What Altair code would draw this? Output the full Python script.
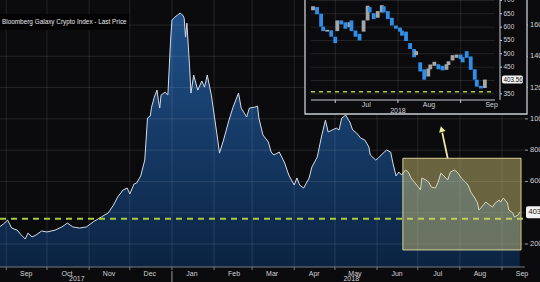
import altair as alt
import pandas as pd

# ---------------- main series (Bloomberg Galaxy Crypto Index, last price) ----------------
main_dates = [
    "2017-08-27", "2017-08-30", "2017-09-02", "2017-09-05", "2017-09-09", "2017-09-12", "2017-09-15",
    "2017-09-17", "2017-09-20", "2017-09-23", "2017-09-27",
    "2017-10-01", "2017-10-07", "2017-10-12", "2017-10-16", "2017-10-20", "2017-10-25", "2017-10-30",
    "2017-11-04", "2017-11-10", "2017-11-15", "2017-11-19", "2017-11-22", "2017-11-26", "2017-11-29",
    "2017-12-01", "2017-12-04", "2017-12-06", "2017-12-09", "2017-12-12", "2017-12-14", "2017-12-16",
    "2017-12-17", "2017-12-19", "2017-12-21", "2017-12-22", "2017-12-23", "2017-12-24", "2017-12-27",
    "2017-12-29", "2017-12-31",
    "2018-01-01", "2018-01-03", "2018-01-05", "2018-01-07", "2018-01-09", "2018-01-10", "2018-01-11",
    "2018-01-12", "2018-01-14", "2018-01-15", "2018-01-17", "2018-01-20", "2018-01-23", "2018-01-25",
    "2018-01-27", "2018-01-30",
    "2018-02-03", "2018-02-05", "2018-02-08", "2018-02-12", "2018-02-15", "2018-02-19", "2018-02-21",
    "2018-02-25", "2018-02-27",
    "2018-03-03", "2018-03-05", "2018-03-06", "2018-03-09", "2018-03-13", "2018-03-15", "2018-03-17",
    "2018-03-21", "2018-03-25", "2018-03-28",
    "2018-04-01", "2018-04-03", "2018-04-05", "2018-04-08", "2018-04-12", "2018-04-14", "2018-04-18",
    "2018-04-21", "2018-04-24", "2018-04-26", "2018-04-29",
    "2018-05-02", "2018-05-04", "2018-05-06", "2018-05-09", "2018-05-11", "2018-05-12", "2018-05-14",
    "2018-05-17", "2018-05-20", "2018-05-23", "2018-05-26", "2018-05-27", "2018-05-31",
    "2018-06-02", "2018-06-04", "2018-06-08", "2018-06-11", "2018-06-13", "2018-06-15", "2018-06-17",
    "2018-06-19", "2018-06-22", "2018-06-24", "2018-06-26", "2018-06-29",
    "2018-07-02", "2018-07-03", "2018-07-04", "2018-07-07", "2018-07-09", "2018-07-11", "2018-07-14",
    "2018-07-16", "2018-07-18", "2018-07-21", "2018-07-23", "2018-07-25", "2018-07-28", "2018-07-30",
    "2018-08-02", "2018-08-05", "2018-08-07", "2018-08-09", "2018-08-12", "2018-08-14", "2018-08-15",
    "2018-08-17", "2018-08-20", "2018-08-23", "2018-08-25", "2018-08-27", "2018-08-30", "2018-08-31",
    "2018-09-02", "2018-09-05", "2018-09-06", "2018-09-09", "2018-09-10", "2018-09-13", "2018-09-14",
]
main_values = [
    309, 328, 353, 302, 289, 258, 232, 270, 245, 258, 283,
    277, 289, 309, 334, 309, 302, 309,
    341, 373, 398, 449, 500, 545, 558,
    520, 583, 590, 635, 737, 1005, 1018, 1075, 1139, 1184, 1120, 1069, 1152, 1171, 1152, 1504,
    1631, 1650, 1663, 1676, 1663, 1644, 1523, 1612, 1331, 1165, 1280, 1184, 1242, 1203, 1280, 1152,
    909, 781, 865, 992, 1075, 1165, 1069, 1012, 1069,
    1075, 1082, 1005, 897, 852, 788, 769, 788, 718, 641,
    577, 622, 577, 558, 622, 692, 756, 884, 992, 916, 929,
    941, 929, 1005, 1024, 992, 980, 929, 909, 877, 865, 820, 769, 737,
    750, 769, 801, 788, 705, 635, 660, 641, 673, 660, 622, 590,
    558, 545, 622, 609, 596, 564, 558, 596, 654, 628, 609, 660, 673, 660,
    622, 596, 577, 532, 494, 462, 417, 436, 468, 449, 436, 462, 481, 468,
    494, 462, 417, 398, 373, 385, 404,
]

# ---------------- inset candles (Jun - Sep 2018) ----------------
inset_dates = [
    "2018-06-20", "2018-06-22", "2018-06-24", "2018-06-25", "2018-06-27", "2018-06-29", "2018-07-01",
    "2018-07-02", "2018-07-04", "2018-07-06", "2018-07-08", "2018-07-09", "2018-07-11", "2018-07-13",
    "2018-07-15", "2018-07-17", "2018-07-18", "2018-07-20", "2018-07-22", "2018-07-24", "2018-07-25",
    "2018-07-27", "2018-07-29", "2018-07-31", "2018-08-02", "2018-08-03", "2018-08-05", "2018-08-07",
    "2018-08-09", "2018-08-10", "2018-08-12", "2018-08-14", "2018-08-16", "2018-08-17", "2018-08-19",
    "2018-08-21", "2018-08-23", "2018-08-25", "2018-08-26", "2018-08-28", "2018-08-30", "2018-09-01",
    "2018-09-02", "2018-09-04", "2018-09-06", "2018-09-08", "2018-09-09", "2018-09-11", "2018-09-13",
]
inset_open = [663, 675, 650, 602, 583, 588, 564, 585, 625, 618, 600, 625, 587, 575, 583, 625, 675,
              652, 635, 655, 678, 660, 635, 606, 598, 587, 583, 540, 518, 495, 468, 442, 415, 442,
              455, 461, 455, 440, 458, 475, 485, 497, 487, 510, 490, 442, 403, 380, 372]
inset_close = [678, 648, 602, 585, 590, 564, 540, 625, 610, 594, 618, 585, 564, 550, 625, 680, 655,
               630, 660, 682, 655, 630, 606, 594, 583, 568, 548, 518, 487, 510, 434, 403, 445, 460,
               470, 442, 438, 461, 472, 495, 497, 480, 468, 485, 440, 403, 377, 370, 403.56]

# ---------------- axes / annotations ----------------
main_months = ["2017-09-01", "2017-10-01", "2017-11-01", "2017-12-01", "2018-01-01", "2018-02-01",
               "2018-03-01", "2018-04-01", "2018-05-01", "2018-06-01", "2018-07-01", "2018-08-01",
               "2018-09-01"]
main_month_labels = ["Sep", "Oct", "Nov", "Dec", "Jan", "Feb", "Mar", "Apr", "May", "Jun", "Jul", "Aug", "Sep"]
main_yticks = [200, 600, 800, 1000, 1200, 1400, 1600]
main_ygrid = [200, 400, 600, 800, 1000, 1200, 1400, 1600]
year_labels = ["2017", "2018"]
year_label_dates = ["2017-10-23", "2018-05-13"]
year_break = ["2018-01-01"]
threshold_main = 362
last_price_main = 403
box = {"x0": "2018-06-20", "x1": "2018-09-15", "y0": 162, "y1": 748}
arrow = {"x0": "2018-07-23", "x1": "2018-07-19", "y0": 748, "y1": 912, "hx": "2018-07-18 12:00", "hy": 935}
title_text = "Bloomberg Galaxy Crypto Index - Last Price"

inset_months = ["2018-07-01", "2018-08-01", "2018-09-01"]
inset_month_labels = ["Jul", "Aug", "Sep"]
inset_yticks = [350, 450, 500, 550, 600, 650, 700]
inset_ygrid = [350, 400, 450, 500, 550, 600, 650, 700]
inset_start, inset_end = "2018-06-19", "2018-09-18"
inset_ymin, inset_ymax = 327, 709
threshold_inset = 358
last_price_inset = 403.56

W, H = 525, 267
BG = "#0b0b0e"
LBL = "#cfd2d6"
FONT = "Liberation Sans"


def dt(s):
    t = pd.Timestamp(s)
    return alt.DateTime(year=t.year, month=t.month, date=t.day, hours=t.hour)


# ================= main panel =================
df_main = pd.DataFrame({"date": pd.to_datetime(main_dates), "value": main_values})
xs = alt.Scale(domain=[dt("2017-08-27 10:00"), dt("2018-09-17 22:00")])
ys = alt.Scale(domain=[53, 1760], nice=False, zero=False)


def X(field):
    return alt.X(field, scale=xs, axis=None)


def Y(field):
    return alt.Y(field, scale=ys, axis=None)


area = alt.Chart(df_main).mark_area(
    clip=True,
    color=alt.Gradient(gradient="linear", x1=0, x2=0, y1=0, y2=1,
                       stops=[alt.GradientStop(color="#20518a", offset=0),
                              alt.GradientStop(color="#0b2342", offset=1)]),
).encode(x=X("date:T"), y=Y("value:Q"), y2=alt.datum(53))

df_hg = pd.DataFrame({"v": main_ygrid})
hgrid = alt.Chart(df_hg).mark_rule(color="#ffffff", opacity=0.1, strokeWidth=1).encode(
    y=Y("v:Q"), x=alt.value(0), x2=alt.value(W))
df_vg = pd.DataFrame({"d": pd.to_datetime(main_months), "lab": main_month_labels})
vgrid = alt.Chart(df_vg).mark_rule(color="#ffffff", opacity=0.1, strokeWidth=1).encode(
    x=X("d:T"), y=alt.value(0), y2=alt.value(H))

line = alt.Chart(df_main).mark_line(color="#d3dbe6", strokeWidth=1, clip=True).encode(
    x=X("date:T"), y=Y("value:Q"))

thr = alt.Chart(pd.DataFrame({"v": [threshold_main]})).mark_rule(
    color="#a9cc3e", strokeWidth=2, strokeDash=[6, 5]).encode(y=Y("v:Q"), x=alt.value(0), x2=alt.value(W))

df_box = pd.DataFrame({"x0": [pd.Timestamp(box["x0"])], "x1": [pd.Timestamp(box["x1"])],
                       "y0": [box["y0"]], "y1": [box["y1"]]})
ybox = alt.Chart(df_box).mark_rect(fill="#dccf7c", fillOpacity=0.45, stroke="#e6df9e",
                                   strokeWidth=1, strokeOpacity=0.9).encode(
    x=X("x0:T"), x2="x1:T", y=Y("y0:Q"), y2="y1:Q")

df_arrow = pd.DataFrame({"x0": [pd.Timestamp(arrow["x0"])], "x1": [pd.Timestamp(arrow["x1"])],
                         "y0": [arrow["y0"]], "y1": [arrow["y1"]]})
arrow_shaft = alt.Chart(df_arrow).mark_rule(color="#ece8a2", strokeWidth=1.8).encode(
    x=X("x0:T"), x2="x1:T", y=Y("y0:Q"), y2="y1:Q")
df_head = pd.DataFrame({"d": [pd.Timestamp(arrow["hx"])], "v": [arrow["hy"]]})
arrow_head = alt.Chart(df_head).mark_point(shape="triangle-up", filled=True, size=45, angle=345,
                                           color="#ece8a2", opacity=1).encode(x=X("d:T"), y=Y("v:Q"))

df_yt = pd.DataFrame({"v": main_yticks})
y_ticks = alt.Chart(df_yt).mark_rule(color="#9a9a9a").encode(y=Y("v:Q"), x=alt.value(W), x2=alt.value(W + 3))
y_labels = alt.Chart(df_yt).mark_text(color=LBL, fontSize=7.5, font=FONT, align="left",
                                      baseline="middle").encode(
    y=Y("v:Q"), x=alt.value(W + 5), text="v:Q")

df_tag = pd.DataFrame({"y0": [last_price_main - 38], "y1": [last_price_main + 38],
                       "v": [last_price_main], "t": [str(last_price_main)]})
tag_rect = alt.Chart(df_tag).mark_rect(fill="#f2f2f2", cornerRadius=2).encode(
    x=alt.value(526), x2=alt.value(550), y=Y("y0:Q"), y2="y1:Q")
tag_text = alt.Chart(df_tag).mark_text(align="left", baseline="middle", color="#111111",
                                       fontSize=7.5, font=FONT).encode(
    x=alt.value(528.5), y=Y("v:Q"), text="t:N")

df_one = pd.DataFrame({"t": [title_text]})
title_box = alt.Chart(df_one).mark_rect(fill="#030304").encode(
    x=alt.value(0), x2=alt.value(129), y=alt.value(14), y2=alt.value(30))
title_txt = alt.Chart(df_one).mark_text(align="left", baseline="middle", color="#e8e8e8",
                                        fontSize=6.4, font=FONT).encode(
    x=alt.value(2), y=alt.value(22), text="t:N")

main = alt.layer(area, hgrid, vgrid, line, thr, ybox, arrow_shaft, arrow_head,
                 y_ticks, y_labels, tag_rect, tag_text, title_box, title_txt)

# ================= bottom time axis (same x domain as the main panel) =================
cover = alt.Chart(pd.DataFrame({"a": [0]})).mark_rect(fill=BG, opacity=1).encode(
    x=alt.value(-5), x2=alt.value(W + 20), y=alt.value(H + 0.5), y2=alt.value(H + 20))
x_domain = alt.Chart(pd.DataFrame({"a": [0]})).mark_rule(color="#7a7c80", strokeWidth=1).encode(
    x=alt.value(0), x2=alt.value(W), y=alt.value(H), y2=alt.value(H))
x_ticks = alt.Chart(df_vg).mark_rule(color="#7a7c80").encode(x=X("d:T"), y=alt.value(H), y2=alt.value(H + 3))
x_labels = alt.Chart(df_vg).mark_text(color=LBL, fontSize=7, font=FONT, baseline="middle", dx=20).encode(
    x=X("d:T"), y=alt.value(273.5), text="lab:N")
df_years = pd.DataFrame({"d": pd.to_datetime(year_label_dates), "t": year_labels})
years = alt.Chart(df_years).mark_text(color=LBL, fontSize=7, font=FONT, baseline="middle").encode(
    x=X("d:T"), y=alt.value(279), text="t:N")
df_sep = pd.DataFrame({"d": pd.to_datetime(year_break)})
sep = alt.Chart(df_sep).mark_rule(color="#9a9a9a", strokeWidth=1).encode(
    x=X("d:T"), y=alt.value(271), y2=alt.value(282))
bottom = alt.layer(cover, x_domain, x_ticks, x_labels, years, sep)

# ================= inset panel =================
xi = alt.Scale(domain=[dt(inset_start), dt(inset_end)], range=[306, 500])
yi = alt.Scale(domain=[inset_ymin, inset_ymax], range=[100, -2], nice=False, zero=False)


def XI(field):
    return alt.X(field, scale=xi, axis=None)


def YI(field):
    return alt.Y(field, scale=yi, axis=None)


bg = alt.Chart(pd.DataFrame({"a": [0]})).mark_rect(fill=BG, stroke="#c9cdd2", strokeWidth=1.3).encode(
    x=alt.value(305), x2=alt.value(527), y=alt.value(-3), y2=alt.value(114))

df_ihg = pd.DataFrame({"v": inset_ygrid, "x0": pd.Timestamp(inset_start), "x1": pd.Timestamp(inset_end)})
ihgrid = alt.Chart(df_ihg).mark_rule(color="#ffffff", opacity=0.1).encode(
    x=XI("x0:T"), x2="x1:T", y=YI("v:Q"))
df_ivg = pd.DataFrame({"d": pd.to_datetime(inset_months), "lab": inset_month_labels,
                       "y0": inset_ymin, "y1": inset_ymax})
ivgrid = alt.Chart(df_ivg).mark_rule(color="#ffffff", opacity=0.1).encode(
    x=XI("d:T"), y=YI("y0:Q"), y2="y1:Q")

df_ithr = pd.DataFrame({"v": [threshold_inset], "x0": [pd.Timestamp(inset_start)],
                        "x1": [pd.Timestamp(inset_end)]})
ithr = alt.Chart(df_ithr).mark_rule(color="#a9cc3e", strokeWidth=1.6, strokeDash=[4, 4]).encode(
    x=XI("x0:T"), x2="x1:T", y=YI("v:Q"))

df_c = pd.DataFrame({"date": pd.to_datetime(inset_dates), "open": inset_open, "close": inset_close})
df_c["col"] = ["#a4a6a8" if c >= o else "#2f8ee8" for o, c in zip(inset_open, inset_close)]
candles = alt.Chart(df_c).mark_bar(width=3.8).encode(
    x=XI("date:T"), y=YI("open:Q"), y2="close:Q", color=alt.Color("col:N", scale=None))

ix_dom = alt.Chart(df_ithr).mark_rule(color="#c9cdd2").encode(
    x=XI("x0:T"), x2="x1:T", y=alt.value(100), y2=alt.value(100))
ix_ticks = alt.Chart(df_ivg).mark_rule(color="#c9cdd2").encode(x=XI("d:T"), y=alt.value(100), y2=alt.value(103))
ix_labels = alt.Chart(df_ivg).mark_text(color=LBL, fontSize=7, font=FONT, baseline="middle", dx=31).encode(
    x=XI("d:T"), y=alt.value(105), text="lab:N")
iy_dom = alt.Chart(pd.DataFrame({"a": [0]})).mark_rule(color="#c9cdd2").encode(
    x=alt.value(500), x2=alt.value(500), y=alt.value(-3), y2=alt.value(100))
df_iyt = pd.DataFrame({"v": inset_yticks})
iy_ticks = alt.Chart(df_iyt).mark_rule(color="#c9cdd2").encode(y=YI("v:Q"), x=alt.value(500), x2=alt.value(502))
iy_labels = alt.Chart(df_iyt).mark_text(color=LBL, fontSize=6.5, font=FONT, align="left",
                                        baseline="middle").encode(y=YI("v:Q"), x=alt.value(503.5), text="v:Q")

df_itag = pd.DataFrame({"y0": [last_price_inset - 15], "y1": [last_price_inset + 15],
                        "v": [last_price_inset], "t": [f"{last_price_inset:.2f}"]})
itag_rect = alt.Chart(df_itag).mark_rect(fill="#f2f2f2", cornerRadius=2).encode(
    x=alt.value(502), x2=alt.value(523), y=YI("y0:Q"), y2="y1:Q")
itag_text = alt.Chart(df_itag).mark_text(align="left", baseline="middle", color="#111111",
                                         fontSize=6.3, font=FONT).encode(
    x=alt.value(503.5), y=YI("v:Q"), text="t:N")

df_iyear = pd.DataFrame({"d": [pd.Timestamp("2018-08-01")], "t": ["2018"]})
iyear = alt.Chart(df_iyear).mark_text(color=LBL, fontSize=7, font=FONT, baseline="middle").encode(
    x=XI("d:T"), y=alt.value(110.5), text="t:N")

inset = alt.layer(bg, ihgrid, ivgrid, ithr, candles, ix_dom, ix_ticks, ix_labels,
                  iy_dom, iy_ticks, iy_labels, itag_rect, itag_text, iyear)

chart = alt.layer(main, inset, bottom).resolve_scale(x="independent", y="independent").properties(
    width=W, height=H, background=BG,
    padding={"left": 0, "top": 0, "right": 540 - W, "bottom": 282 - H},
    autosize=alt.AutoSizeParams(type="none"),
).configure_view(stroke=None)

chart.save("out.html", embed_options={"renderer": "svg", "actions": False})
